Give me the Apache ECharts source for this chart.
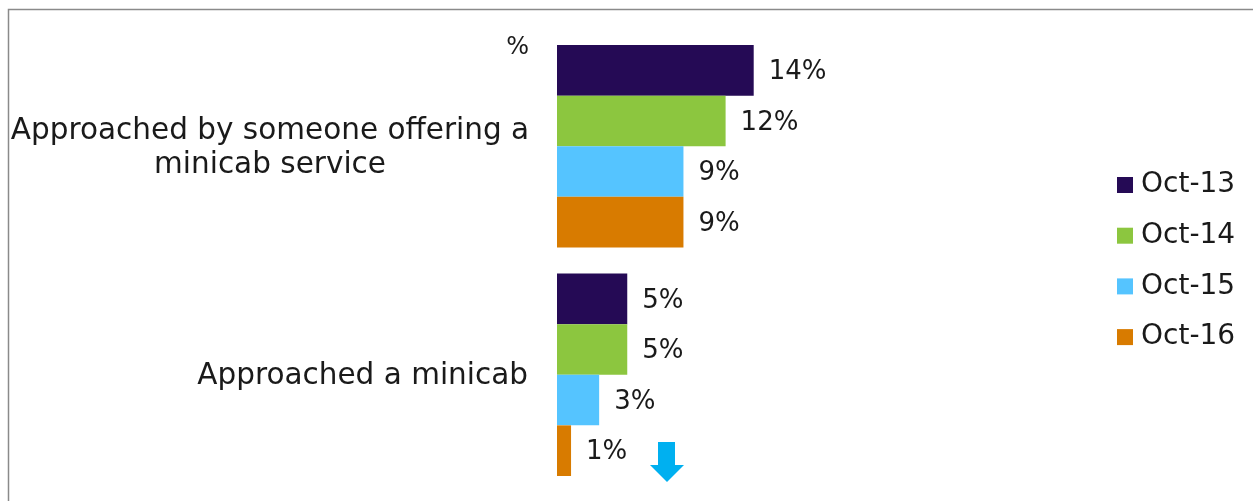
<!DOCTYPE html>
<html>
<head>
<meta charset="utf-8">
<script src="https://cdn.jsdelivr.net/npm/echarts@6/dist/echarts.min.js"></script>
<style>
  html, body { margin: 0; padding: 0; background: #fff; }
  #chart { width: 1253px; height: 501px; }
</style>
</head>
<body>
<div id="chart"></div>
<script>
// Share of respondents approached, by survey wave
const categories = ['Approached by someone offering a\nminicab service', 'Approached a minicab'];
const seriesNames = ['Oct-13', 'Oct-14', 'Oct-15', 'Oct-16'];
const oct13 = [14, 5];
const oct14 = [12, 5];
const oct15 = [9, 3];
const oct16 = [9, 1];
const seriesColors = ['#250a55', '#8cc63f', '#55c4ff', '#d87b00'];

const FONT = '"DejaVu Sans", sans-serif';
const TEXT = '#1a1a1a';

const values = [oct13, oct14, oct15, oct16];

const chart = echarts.init(document.getElementById('chart'), null, { renderer: 'canvas' });

chart.setOption({
  backgroundColor: '#ffffff',
  animation: false,
  textStyle: { fontFamily: FONT, color: TEXT },
  grid: { left: 557, right: 415, top: 32, bottom: 12, containLabel: false },
  xAxis: {
    type: 'value', min: 0, max: 20,
    show: false
  },
  yAxis: {
    type: 'category',
    inverse: true,
    data: categories,
    axisLine: { show: false },
    axisTick: { show: false },
    axisLabel: {
      margin: 29,
      fontSize: 29.5,
      color: TEXT,
      fontFamily: FONT,
      padding: [4, 0, 0, 0],
      formatter: function (v, i) {
        const style = i === 0 ? 'w' : 'n';
        return v.split('\n').map(function (l) { return '{' + style + '|' + l + '}'; }).join('\n');
      },
      rich: {
        w: { width: 516, align: 'center', fontSize: 29.5, lineHeight: 34, color: TEXT, fontFamily: FONT },
        n: { fontSize: 29.5, lineHeight: 34, color: TEXT, fontFamily: FONT }
      }
    }
  },
  legend: {
    orient: 'vertical',
    left: 1117,
    top: 171,
    padding: 0,
    itemWidth: 16,
    itemHeight: 16,
    itemGap: 22.7,
    icon: 'rect',
    textStyle: { fontSize: 28, color: TEXT, fontFamily: FONT, padding: [0, 0, 0, 3] },
    data: seriesNames
  },
  series: seriesNames.map(function (name, k) {
    return {
      name: name,
      type: 'bar',
      data: values[k],
      barGap: '0%',
      barCategoryGap: '11.4%',
      itemStyle: { color: seriesColors[k] },
      label: {
        show: true,
        position: 'right',
        distance: 15,
        offset: [0, 2],
        formatter: '{c}%',
        fontSize: 26,
        color: TEXT,
        fontFamily: FONT
      }
    };
  }),
  graphic: [
    {
      type: 'rect',
      shape: { x: 8.5, y: 9.5, width: 1400, height: 700 },
      style: { fill: 'none', stroke: '#8a8a8a', lineWidth: 1.5 },
      silent: true
    },
    {
      type: 'text',
      right: 1253 - 529,
      top: 36,
      style: { text: '%', fontSize: 24, fill: TEXT, fontFamily: FONT }
    },
    {
      type: 'polygon',
      shape: {
        points: [[658, 442], [675, 442], [675, 465], [684, 465], [667, 482], [650, 465], [658, 465]]
      },
      style: { fill: '#00b0f0' },
      silent: true
    }
  ]
});
</script>
</body>
</html>
